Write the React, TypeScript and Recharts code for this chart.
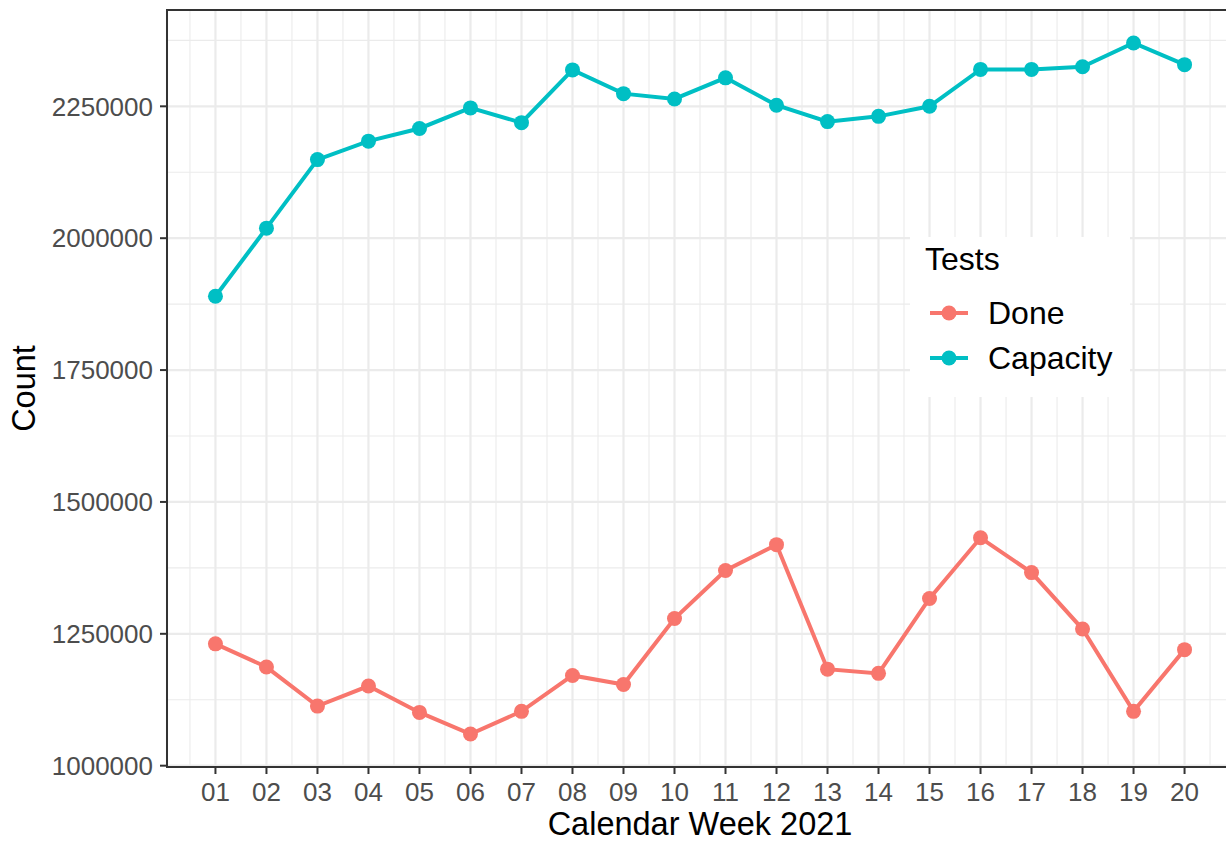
import {
  LineChart,
  Line,
  CartesianGrid,
  XAxis,
  YAxis,
  Legend,
  ReferenceArea,
} from "recharts";

const weeks = [1, 2, 3, 4, 5, 6, 7, 8, 9, 10, 11, 12, 13, 14, 15, 16, 17, 18, 19, 20];
const done = [
  1231000, 1187000, 1113000, 1151000, 1101000, 1060000, 1103000, 1171000, 1154000, 1279000,
  1370000, 1419000, 1183000, 1175000, 1317000, 1432000, 1366000, 1259000, 1103000, 1220000,
];
const capacity = [
  1890000, 2019000, 2149000, 2184000, 2208000, 2247000, 2219000, 2319000, 2274000, 2264000,
  2304000, 2252000, 2221000, 2231000, 2250000, 2320000, 2320000, 2325000, 2370000, 2329000,
];
const yTicks = [1000000, 1250000, 1500000, 1750000, 2000000, 2250000];
const yMinorTicks = [1125000, 1375000, 1625000, 1875000, 2125000, 2375000];
const xMinorTicks = [
  0.5, 1.5, 2.5, 3.5, 4.5, 5.5, 6.5, 7.5, 8.5, 9.5, 10.5, 11.5, 12.5, 13.5, 14.5, 15.5, 16.5,
  17.5, 18.5, 19.5, 20.5,
];
const seriesNames = ["Done", "Capacity"];

const xDomain = [0.05, 20.95];
const yDomain = [997500, 2432600];

const RED = "#F8766D";
const CYAN = "#00BFC4";
const FONT = "'Liberation Sans', Arial, sans-serif";

const data = weeks.map((w, i) => ({ week: w, done: done[i], capacity: capacity[i] }));

const tickStyle = { fill: "#4D4D4D", fontSize: 26, fontFamily: FONT };

function LegendBox() {
  const colors = [RED, CYAN];
  return (
    <svg width={220} height={160} style={{ display: "block", background: "#fff" }}>
      <text x={15} y={33} fontSize={32} fontFamily={FONT} fill="#000">
        Tests
      </text>
      {seriesNames.map((name, i) => {
        const cy = 76 + i * 45;
        return (
          <g key={name}>
            <line x1={20} x2={58} y1={cy} y2={cy} stroke={colors[i]} strokeWidth={4} />
            <circle cx={39} cy={cy} r={7.5} fill={colors[i]} />
            <text x={78} y={cy + 11} fontSize={32} fontFamily={FONT} fill="#000">
              {name}
            </text>
          </g>
        );
      })}
    </svg>
  );
}

export default function App() {
  return (
    <div
      style={{
        position: "absolute",
        left: 0,
        top: 0,
        width: 1226,
        height: 844,
        background: "#fff",
        overflow: "hidden",
      }}
    >
      {/* the panel runs a few px past the right edge, as in the cropped original */}
      <LineChart
        width={1233}
        height={844}
        data={data}
        margin={{ top: 10, right: 0, left: 0, bottom: 0 }}
      >
        <XAxis
          xAxisId="minor"
          type="number"
          dataKey="week"
          domain={xDomain}
          ticks={xMinorTicks}
          allowDataOverflow
          hide
        />
        <YAxis
          yAxisId="minor"
          type="number"
          domain={yDomain}
          ticks={yMinorTicks}
          allowDataOverflow
          hide
        />
        <CartesianGrid xAxisId="minor" yAxisId="minor" stroke="#EBEBEB" strokeWidth={1.1} />
        <CartesianGrid stroke="#EBEBEB" strokeWidth={2.2} />
        <XAxis
          type="number"
          dataKey="week"
          domain={xDomain}
          ticks={weeks}
          allowDataOverflow
          interval={0}
          height={77}
          tickSize={7}
          tickMargin={9}
          tick={tickStyle}
          tickLine={{ stroke: "#333333", strokeWidth: 2 }}
          axisLine={false}
          tickFormatter={(v: number) => String(v).padStart(2, "0")}
          label={{
            content: (p: any) => {
              const vb = p.viewBox;
              return (
                <text
                  x={vb.x + vb.width / 2}
                  y={835}
                  textAnchor="middle"
                  fontSize={32.5}
                  fontFamily={FONT}
                  fill="#000"
                >
                  Calendar Week 2021
                </text>
              );
            },
          }}
        />
        <YAxis
          type="number"
          domain={yDomain}
          ticks={yTicks}
          allowDataOverflow
          width={167}
          tickSize={7}
          tickMargin={7}
          tick={tickStyle}
          tickLine={{ stroke: "#333333", strokeWidth: 2 }}
          axisLine={false}
          label={{
            content: (p: any) => {
              const vb = p.viewBox;
              const cx = 24;
              const cy = vb.y + vb.height / 2;
              return (
                <text
                  x={cx}
                  y={cy}
                  transform={`rotate(-90 ${cx} ${cy})`}
                  textAnchor="middle"
                  dominantBaseline="central"
                  fontSize={32.5}
                  fontFamily={FONT}
                  fill="#000"
                >
                  Count
                </text>
              );
            },
          }}
        />
        <Line
          type="linear"
          dataKey="done"
          name="Done"
          stroke={RED}
          strokeWidth={4}
          dot={{ r: 7.5, fill: RED, stroke: "none" }}
          activeDot={false}
          isAnimationActive={false}
        />
        <Line
          type="linear"
          dataKey="capacity"
          name="Capacity"
          stroke={CYAN}
          strokeWidth={4}
          dot={{ r: 7.5, fill: CYAN, stroke: "none" }}
          activeDot={false}
          isAnimationActive={false}
        />
        <ReferenceArea
          x1={xDomain[0]}
          x2={xDomain[1]}
          y1={yDomain[0]}
          y2={yDomain[1]}
          fill="none"
          fillOpacity={0}
          stroke="#333333"
          strokeWidth={2}
          ifOverflow="visible"
        />
        <Legend
          layout="vertical"
          align="center"
          verticalAlign="middle"
          content={() => <LegendBox />}
          wrapperStyle={{ position: "absolute", left: 910, top: 237, width: 220, height: 160 }}
        />
      </LineChart>
    </div>
  );
}
